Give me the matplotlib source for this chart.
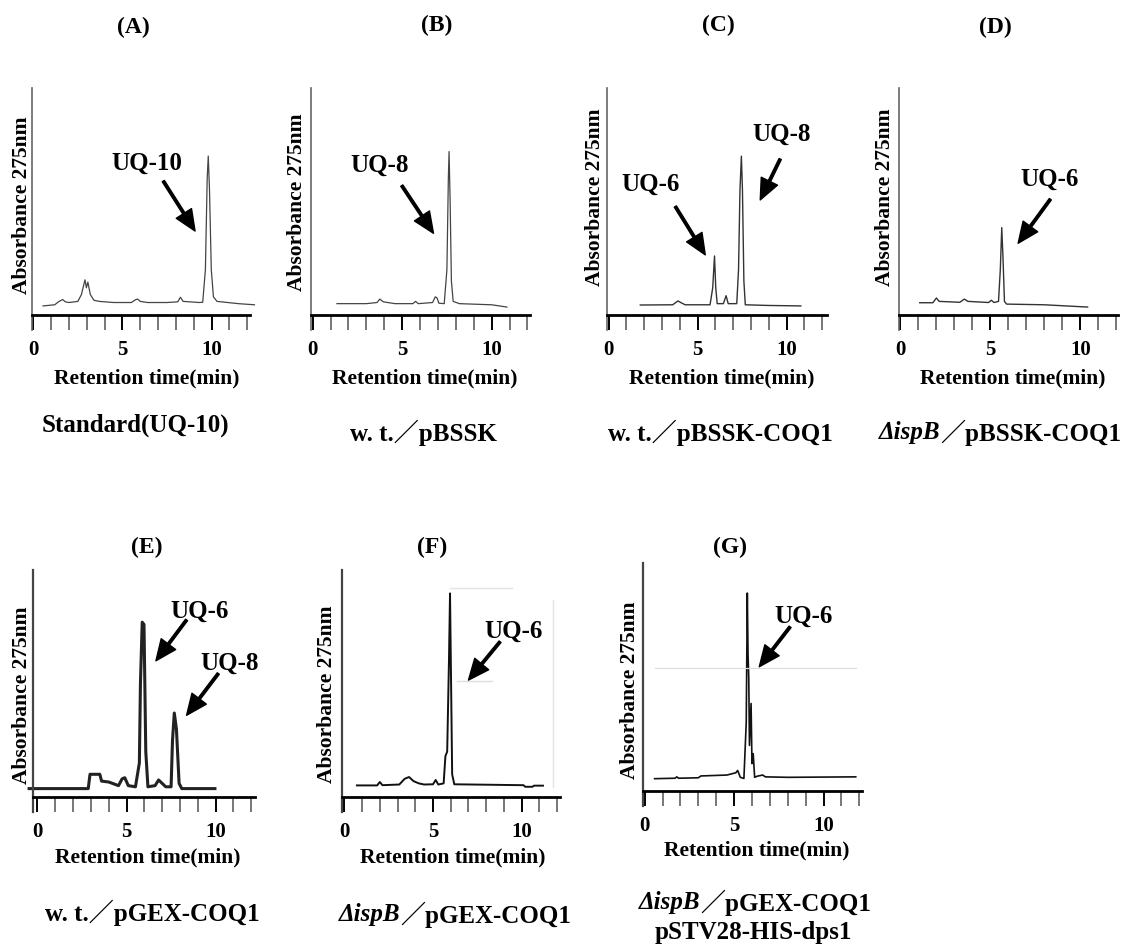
import matplotlib as mpl
mpl.use("Agg")
import matplotlib.pyplot as plt

W, H = 1134, 952

plt.rcParams['font.family'] = ['Liberation Serif', 'Noto Sans CJK JP', 'DejaVu Sans']
plt.rcParams['font.weight'] = 'bold'

# retention time [min] / relative absorbance at 275 nm
a_time = [0.55, 1.2, 1.45, 1.65, 1.8, 2.0, 2.5, 2.7, 2.9, 2.98, 3.06, 3.2, 3.4, 3.7, 4.5, 5.5, 5.75, 5.85, 6.0, 6.4,
          7.5, 8.1, 8.25, 8.4, 9.3, 9.5, 9.65, 9.75, 9.81, 9.88, 9.98, 10.1, 10.3, 11.5, 12.4]
a_abs = [0.04, 0.045, 0.06, 0.068, 0.058, 0.055, 0.06, 0.09, 0.155, 0.12, 0.145, 0.09, 0.065, 0.06, 0.055, 0.055,
         0.068, 0.07, 0.06, 0.055, 0.055, 0.058, 0.078, 0.06, 0.055, 0.056, 0.2, 0.6, 0.70, 0.55, 0.2, 0.08, 0.06,
         0.05, 0.045]

b_time = [1.36, 3.0, 3.6, 3.75, 3.95, 4.6, 5.6, 5.75, 5.9, 6.7, 6.85, 6.95, 7.05, 7.35, 7.5, 7.58, 7.62, 7.68,
          7.75, 7.85, 8.2, 10.0, 10.85]
b_abs = [0.05, 0.05, 0.055, 0.07, 0.058, 0.05, 0.05, 0.06, 0.05, 0.055, 0.08, 0.075, 0.052, 0.05, 0.2, 0.6, 0.72,
         0.5, 0.15, 0.06, 0.05, 0.045, 0.035]

c_time = [1.78, 3.6, 3.9, 4.05, 4.3, 5.7, 5.85, 5.95, 6.02, 6.1, 6.45, 6.6, 6.72, 7.2, 7.3, 7.38, 7.46, 7.52,
          7.6, 7.68, 9.0, 10.8]
c_abs = [0.044, 0.045, 0.062, 0.055, 0.045, 0.045, 0.12, 0.26, 0.12, 0.05, 0.05, 0.085, 0.05, 0.05, 0.2, 0.55,
         0.70, 0.55, 0.15, 0.045, 0.042, 0.04]

d_time = [1.07, 1.8, 2.0, 2.15, 3.3, 3.55, 3.75, 4.9, 5.05, 5.2, 5.45, 5.55, 5.63, 5.7, 5.78, 5.9, 8.0, 10.4]
d_abs = [0.054, 0.054, 0.075, 0.06, 0.056, 0.07, 0.06, 0.055, 0.065, 0.055, 0.06, 0.2, 0.385, 0.25, 0.06, 0.048,
         0.045, 0.035]

e_time = [-0.47, 2.85, 2.95, 3.5, 3.6, 4.0, 4.55, 4.75, 4.9, 5.1, 5.5, 5.72, 5.78, 5.88, 5.98, 6.08, 6.2, 6.6,
          6.8, 7.0, 7.2, 7.5, 7.58, 7.68, 7.8, 7.95, 8.1, 9.96]
e_abs = [0.037, 0.037, 0.10, 0.10, 0.07, 0.066, 0.05, 0.08, 0.085, 0.05, 0.045, 0.15, 0.5, 0.77, 0.76, 0.2, 0.045,
         0.05, 0.075, 0.06, 0.045, 0.045, 0.25, 0.37, 0.3, 0.06, 0.037, 0.037]

f_time = [0.71, 1.85, 2.0, 2.15, 3.1, 3.4, 3.65, 3.9, 4.2, 4.5, 5.0, 5.15, 5.3, 5.6, 5.7, 5.8, 5.9, 5.96, 6.02,
          6.08, 6.2, 10.1, 10.2, 10.6, 10.7, 11.2]
f_abs = [0.051, 0.051, 0.066, 0.052, 0.055, 0.08, 0.088, 0.07, 0.06, 0.055, 0.056, 0.075, 0.055, 0.06, 0.18, 0.2,
         0.6, 0.897, 0.5, 0.1, 0.056, 0.052, 0.045, 0.045, 0.05, 0.05]

g_time = [0.56, 1.7, 1.8, 1.9, 3.0, 3.15, 4.6, 5.1, 5.2, 5.35, 5.55, 5.68, 5.74, 5.78, 5.82, 5.86, 5.95, 6.0,
          6.07, 6.15, 6.3, 6.6, 6.75, 8.0, 11.8]
g_abs = [0.054, 0.056, 0.062, 0.056, 0.058, 0.066, 0.07, 0.08, 0.09, 0.06, 0.055, 0.3, 0.868, 0.6, 0.5, 0.2,
         0.384, 0.12, 0.164, 0.06, 0.065, 0.07, 0.062, 0.06, 0.062]

letters = ['(A)', '(B)', '(C)', '(D)', '(E)', '(F)', '(G)']
strains = ['', 'w. t.', 'w. t.', 'ΔispB', 'w. t.', 'ΔispB', 'ΔispB']
plasmids = ['Standard(UQ-10)', '／pBSSK', '／pBSSK-COQ1', '／pBSSK-COQ1', '／pGEX-COQ1', '／pGEX-COQ1',
            '／pGEX-COQ1']
traces = [(a_time, a_abs), (b_time, b_abs), (c_time, c_abs), (d_time, d_abs),
          (e_time, e_abs), (f_time, f_abs), (g_time, g_abs)]

# layout in figure pixels: y-axis x, x-axis end, x-axis y, y-axis top, xlim
layout = [
    dict(l=32, r=250, b=315, t=88, x0=-0.07, x1=12.15, title=(133, 27), xl=(147, 378), yl=(22, 205), sub=(135, 425)),
    dict(l=311, r=530, b=315, t=88, x0=-0.09, x1=12.14, title=(437, 25), xl=(425, 378), yl=(297, 202), sub=(423, 433)),
    dict(l=607, r=827, b=315, t=88, x0=-0.09, x1=12.27, title=(718, 25), xl=(722, 378), yl=(595, 197), sub=(720, 433)),
    dict(l=899, r=1118, b=315, t=88, x0=-0.08, x1=12.09, title=(995, 27), xl=(1013, 378), yl=(885, 197), split=(940, 433)),
    dict(l=33, r=255, b=797, t=570, x0=-0.25, x1=12.21, title=(147, 547), xl=(148, 857), yl=(22, 695), sub=(152, 913)),
    dict(l=342, r=560, b=797, t=570, x0=-0.13, x1=12.16, title=(432, 547), xl=(453, 857), yl=(327, 694), split=(400, 915)),
    dict(l=643, r=862, b=791, t=563, x0=-0.09, x1=12.15, title=(730, 547), xl=(757, 850), yl=(630, 690), split=(700, 903)),
]

trace_style = [('#444444', 0.9), ('#444444', 0.9), ('#333333', 1.0), ('#333333', 1.0),
               ('#222222', 2.2), ('#111111', 1.4), ('#111111', 1.2)]
yaxis_style = [('#666666', 1.2)] * 4 + [('#444444', 1.6)] * 3

# arrows: (label, text pos, arrow tail, arrow head) in data coords
notes = [
    [('UQ-10', (6.36, 0.67), (7.29, 0.59), (9.07, 0.37))],
    [('UQ-8', (3.77, 0.66), (4.98, 0.57), (6.75, 0.36))],
    [('UQ-6', (2.34, 0.574), (3.75, 0.478), (5.43, 0.265)), ('UQ-8', (9.74, 0.794), (9.64, 0.687), (8.52, 0.507))],
    [('UQ-6', (8.3, 0.596), (8.33, 0.51), (6.54, 0.316))],
    [('UQ-6', (9.12, 0.82), (8.37, 0.78), (6.65, 0.60)), ('UQ-8', (10.8, 0.59), (10.15, 0.544), (8.37, 0.36))],
    [('UQ-6', (9.53, 0.728), (8.78, 0.684), (7.0, 0.515))],
    [('UQ-6', (8.88, 0.765), (8.13, 0.72), (6.41, 0.545))],
]


def fx(x):
    return x / W


def fy(y):
    return 1 - y / H


fig = plt.figure(figsize=(W / 100, H / 100), dpi=100)
fig.patch.set_facecolor('white')

BELOW = 15
axes = []
for i, L in enumerate(layout):
    ax = fig.add_axes([fx(L['l']), fy(L['b'] + BELOW), (L['r'] - L['l']) / W, (L['b'] + BELOW - L['t']) / H])
    ax.set_xlim(L['x0'], L['x1'])
    ax.set_ylim(-BELOW / (L['b'] - L['t']), 1)
    ax.patch.set_alpha(0)
    for s in ('top', 'right'):
        ax.spines[s].set_visible(False)
    ax.spines['bottom'].set_position(('data', 0))
    ax.spines['bottom'].set_linewidth(2.0)
    ax.spines['left'].set_color(yaxis_style[i][0])
    ax.spines['left'].set_linewidth(yaxis_style[i][1])
    ax.set_yticks([])
    ax.set_xticks([0, 5, 10])
    ax.set_xticks(range(0, 13), minor=True)
    ax.tick_params(axis='x', which='both', direction='out', length=11, width=1.4, pad=7, labelsize=15)
    ax.tick_params(axis='x', which='minor', color='#777777')

    t, a = traces[i]
    ax.plot(t, a, color=trace_style[i][0], lw=trace_style[i][1], clip_on=False)

    for lab, tpos, tail, head in notes[i]:
        ax.text(tpos[0], tpos[1], lab, ha='center', va='center', fontsize=18)
        ax.annotate('', xy=head, xytext=tail,
                    arrowprops=dict(facecolor='black', edgecolor='black', width=1.8, headwidth=13,
                                    headlength=15, shrink=0))

    fig.text(fx(L['title'][0]), fy(L['title'][1]), letters[i], ha='center', va='center', fontsize=17)
    fig.text(fx(L['xl'][0]), fy(L['xl'][1]), 'Retention time(min)', ha='center', va='center', fontsize=15.5)
    fig.text(fx(L['yl'][0]), fy(L['yl'][1]), 'Absorbance 275nm', rotation=90, ha='center', va='center',
             fontsize=15.5)
    axes.append(ax)

    if 'sub' in L:
        label = (strains[i] + plasmids[i]) if strains[i] else plasmids[i]
        fig.text(fx(L['sub'][0]), fy(L['sub'][1]), label, ha='center', va='center', fontsize=18)
    else:
        sx, sy = L['split']
        fig.text(fx(sx), fy(sy), strains[i], ha='right', va='center', fontsize=18, style='italic')
        fig.text(fx(sx), fy(sy), plasmids[i], ha='left', va='center', fontsize=18)

# second line of the (G) caption
fig.text(fx(753), fy(932), 'pSTV28-HIS-dps1', ha='center', va='center', fontsize=18)

# faint frame lines left over on the scanned (F) and (G) traces
axes[5].plot([5.97, 9.44], [0.92, 0.92], color='#e4e4e4', lw=1)
axes[5].plot([6.34, 8.3], [0.51, 0.51], color='#dddddd', lw=1)
axes[5].plot([11.78, 11.78], [0.044, 0.87], color='#e4e4e4', lw=1)
axes[6].plot([0.56, 11.8], [0.538, 0.538], color='#dddddd', lw=0.8)

fig.savefig('out.png', dpi=100)
